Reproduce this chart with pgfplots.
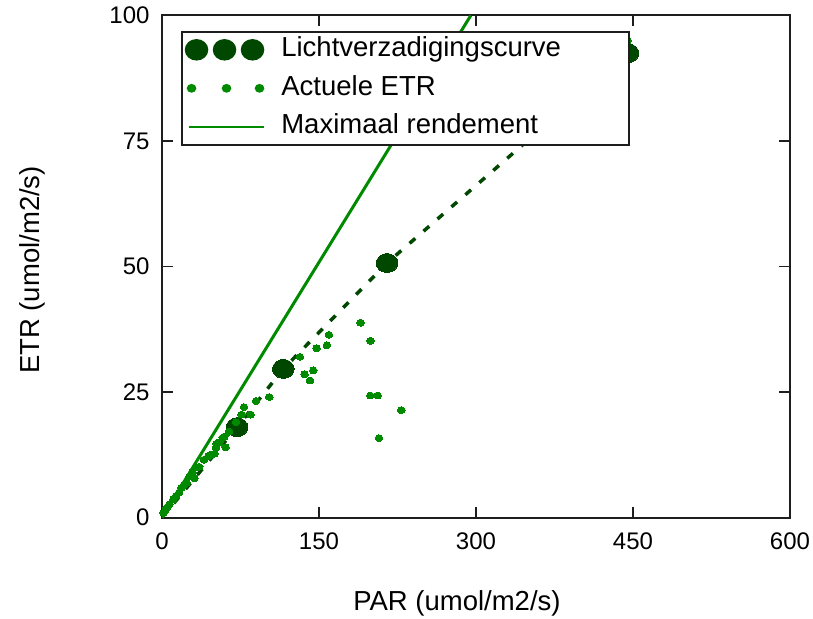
\documentclass[border=0pt]{standalone}
\usepackage{fontspec}
\setmainfont{Liberation Sans}
\usepackage{pgfplots}
\pgfplotsset{compat=1.18}
\definecolor{dkg}{RGB}{0,72,0}
\definecolor{mg}{RGB}{0,138,0}
\definecolor{ax}{RGB}{30,30,30}
\begin{document}
\begin{tikzpicture}
\useasboundingbox (-162pt,-100.5pt) rectangle (651pt,517.5pt);
\begin{axis}[
  at={(0pt,0pt)}, anchor=south west,
  width=628pt, height=502pt, scale only axis,
  xmin=0, xmax=600, ymin=0, ymax=100,
  xtick={0,150,300,450,600}, ytick={0,25,50,75,100},
  tick align=inside, major tick length=11pt,
  axis line style={ax, line width=2pt},
  every tick/.style={ax, line width=1.6pt},
  /pgf/number format/assume math mode=true,
  tick label style={font=\fontsize{24}{28}\selectfont, text=black},
  xticklabel style={yshift=-11.5pt},
  yticklabel style={xshift=-9pt},
  xlabel={PAR (umol/m2/s)},
  ylabel={ETR (umol/m2/s)},
  every axis x label/.style={at={(axis description cs:0.299,-0.172)}, anchor=west, font=\fontsize{27.5}{32}\selectfont},
  every axis y label/.style={at={(axis description cs:-0.207,0.493)}, anchor=center, rotate=90, font=\fontsize{27.5}{32}\selectfont},
  legend cell align=left,
  legend style={at={(axis description cs:0.0303,0.969)}, anchor=north west,
    draw=ax, line width=1.5pt, fill=white,
    font=\fontsize{27.5}{32}\selectfont,
    inner xsep=3pt, inner ysep=2pt, row sep=6.5pt, column sep=17pt,
    nodes={inner xsep=0pt, inner ysep=3pt, text height=20pt, text depth=6pt}},
]
% fitted light curve (dashed)
\addplot[dkg, line width=3.5pt, dash pattern=on 7.5pt off 11pt, forget plot]
  coordinates {(0,0) (71.7,18.0) (115.9,29.6) (215,50.7) (445.2,92.5)};
% Lichtverzadigingscurve
\addplot[dkg, only marks, mark=*, mark size=9.5pt,
  mark options={xscale=1.14, fill=dkg, draw=dkg, line width=0pt},
  legend image code/.code={
    \fill[dkg] (11pt,0pt) ellipse (11pt and 10pt);
    \fill[dkg] (39pt,0pt) ellipse (11pt and 10pt);
    \fill[dkg] (67pt,0pt) ellipse (11pt and 10pt);}]
  coordinates {(71.7,18.0) (115.9,29.6) (215,50.7) (445.2,92.5)};
\addlegendentry{Lichtverzadigingscurve\hspace*{65pt}}
% Actuele ETR
\addplot[mg, only marks, mark=*, mark size=3.45pt,
  mark options={xscale=1.1, fill=mg, draw=mg, line width=0pt},
  legend image code/.code={
    \fill[mg] (6pt,0pt) ellipse (4pt and 3.6pt);
    \fill[mg] (41pt,0pt) ellipse (4pt and 3.6pt);
    \fill[mg] (74pt,0pt) ellipse (4pt and 3.6pt);}]
  coordinates {
  (1.3,0.9) (2.9,1.3) (4.5,1.9) (7,2.6) (10.8,3.6) (13.5,4.3) (16.2,4.9)
  (18.8,5.9) (21,6.5) (23.6,6.9) (26,8.1) (28.9,9.0) (30.9,7.8) (33,10)
  (35.6,10.1) (40,11.5) (44.2,12.2) (46,12.5) (50,12.7) (51.6,13.9)
  (52.2,14.7) (55,15) (58,15.9) (59.5,16.1) (60.8,14.0) (64,17.1)
  (70.7,19.0) (76,20.5) (78.3,22.0) (84.7,20.5) (89.8,23.2) (102.5,24.0)
  (131.8,32.0) (136.3,28.5) (141.4,27.3) (144.5,29.3) (147.7,33.7)
  (157.6,34.3) (159.5,36.4) (189.8,38.8) (199.3,35.2) (199,24.3)
  (206,24.3) (207.3,15.8) (228.6,21.4) (444.8,95)};
\addlegendentry{Actuele ETR}
% Maximaal rendement
\addplot[mg, line width=3pt,
  legend image code/.code={\draw[mg, line width=1.6pt] (3pt,0pt) -- (78pt,0pt);}]
  coordinates {(0,0) (295,100)};
\addlegendentry{Maximaal rendement}
\end{axis}
\end{tikzpicture}
\end{document}
